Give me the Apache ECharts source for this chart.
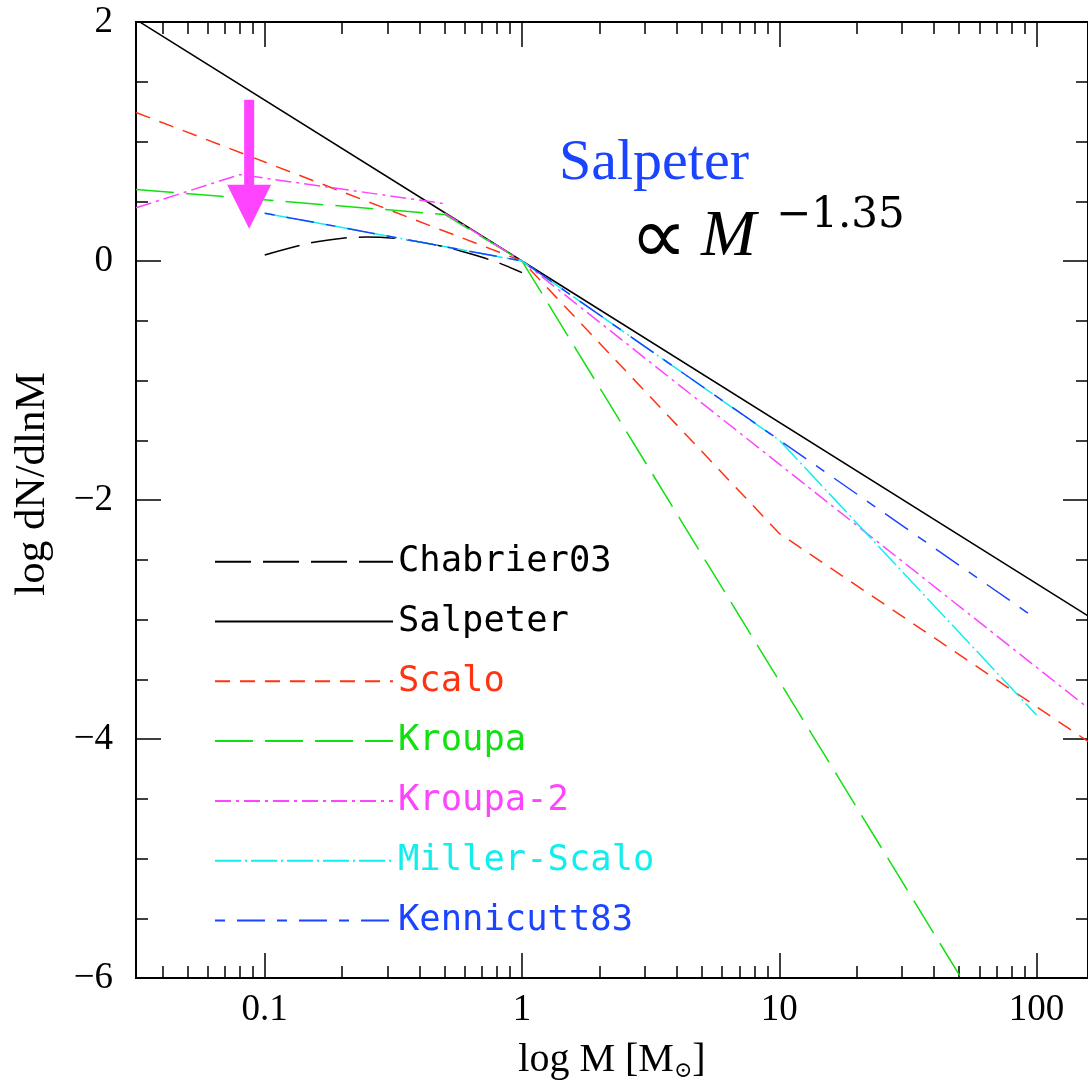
<!DOCTYPE html>
<html><head><meta charset="utf-8">
<script src="https://cdn.jsdelivr.net/npm/echarts@6/dist/echarts.min.js"></script>
<style>html,body{margin:0;padding:0;background:#fff}#c{width:1088px;height:1087px}</style>
</head><body><div id="c"></div>
<script>
// ---- data (x = M in solar masses, y = log dN/dlnM) ----
const chabrier03 = [[0.1,0.05],[0.15,0.15],[0.21,0.195],[0.25,0.2],[0.33,0.187],[0.4,0.16],[0.52,0.11],[0.63,0.06],[0.8,-0.01],[0.9,-0.055],[1,-0.097]];
const salpeter   = [[0.0316,2.02],[1,0],[158.5,-2.97]];
const scalo      = [[0.0316,1.243],[1,0],[10,-2.28],[158.5,-4.02]];
const kroupa     = [[0.0316,0.598],[0.5,0.39],[1,0],[60,-6.25]];
const kroupa2    = [[0.0316,0.445],[0.08,0.723],[0.5,0.48],null,[0.5,0.40],[1,0],[158.5,-3.74]];
const millerScalo= [[0.1,0.40],[1,0],[10,-1.50],[100,-3.80]];
const kennicutt83= [[0.1,0.40],[1,0],[99,-2.99]];

const seriesNames = ['Chabrier03','Salpeter','Scalo','Kroupa','Kroupa-2','Miller-Scalo','Kennicutt83'];
const seriesData  = [chabrier03, salpeter, scalo, kroupa, kroupa2, millerScalo, kennicutt83];

const xMajorTicks = [0.1,1,10,100];
const xMinorTicks = [0.04,0.05,0.06,0.07,0.08,0.09,0.2,0.3,0.4,0.5,0.6,0.7,0.8,0.9,2,3,4,5,6,7,8,9,20,30,40,50,60,70,80,90];
const xRange = [0.0316, 158.5];
const yRange = [-6, 2];

// annotation arrow (x = M, from/to in log dN/dlnM)
const arrowM = 0.087, arrowFrom = 1.35, arrowTo = 0.27;

// ---- styles ----
const colors = ['#000000','#000000','#ff3311','#11e011','#ff44ff','#11eeee','#1a44ff'];
const dashes = [[36,12], 'solid', [15,10], [38,12], [16,5,3,5], [26,4,2,4], [10,12,28,12]];
const serifFont = '"Liberation Serif","DejaVu Serif",serif';

const chart = echarts.init(document.getElementById('c'), null, {renderer:'canvas'});

function xAxisDef(pos, ticks, len, labels) {
  return {
    type:'log', logBase:10, position:pos, min:xRange[0], max:xRange[1],
    splitLine:{show:false},
    axisLine:{show:true, onZero:false, lineStyle:{color:'#000', width:2}},
    axisTick:{show:true, inside:true, length:len, customValues:ticks, lineStyle:{color:'#000', width:1.5}},
    axisLabel: labels ? {show:true, customValues:xMajorTicks, margin:14, color:'#000', fontFamily:serifFont, fontSize:37,
                         formatter: v => String(v)} : {show:false},
    minorTick:{show:false}
  };
}
function yAxisDef(pos, labels) {
  return {
    type:'value', position:pos, min:yRange[0], max:yRange[1], interval:2,
    splitLine:{show:false},
    axisLine:{show:true, onZero:false, lineStyle:{color:'#000', width:2}},
    axisTick:{show:true, inside:true, length:25, lineStyle:{color:'#000', width:1.5}},
    minorTick:{show:true, splitNumber:4, length:12, lineStyle:{color:'#000', width:1.5}},
    axisLabel: labels ? {show:true, margin:23, color:'#000', fontFamily:serifFont, fontSize:37,
                         formatter: v => v < 0 ? '\u2212' + (-v) : String(v)} : {show:false}
  };
}

const xAxes = [xAxisDef('bottom', xMajorTicks, 25, true), xAxisDef('bottom', xMinorTicks, 12, false),
               xAxisDef('top', xMajorTicks, 25, false), xAxisDef('top', xMinorTicks, 12, false)];
xAxes[0].name = '{t|log M [M}{s|\u2299}{t|]}';
xAxes[0].nameLocation = 'middle';
xAxes[0].nameGap = 60;
xAxes[0].nameTextStyle = {rich:{t:{fontFamily:serifFont, fontSize:40, color:'#000'}, s:{fontFamily:'"DejaVu Serif",serif', fontSize:22, color:'#000', padding:[22,0,0,0]}}};

const yAxes = [yAxisDef('left', true), yAxisDef('right', false)];
yAxes[0].name = 'log dN/dlnM';
yAxes[0].nameLocation = 'middle';
yAxes[0].nameGap = 82;
yAxes[0].nameTextStyle = {fontFamily:serifFont, fontSize:43, color:'#000', padding:[0,0,0,32]};

const series = seriesNames.map((n, i) => ({
  name:n, type:'line', xAxisIndex:0, yAxisIndex:0,
  data: seriesData[i].map(p => p === null ? '-' : p),
  symbol:'none', showSymbol:false, connectNulls:false, clip:true,
  smooth: i === 0 ? 0.3 : false,
  lineStyle:{color:colors[i], width:1.5, type: dashes[i]},
  itemStyle:{color:colors[i]},
  emphasis:{disabled:true}, silent:true
}));

chart.setOption({
  animation:false,
  backgroundColor:'#fff',
  grid:{left:136, right:-8, top:22, bottom:106, containLabel:false},
  xAxis:xAxes, yAxis:yAxes,
  legend:{
    orient:'vertical', left:214, top:541.7, padding:0, itemWidth:178, itemHeight:14, itemGap:19.8,
    selectedMode:false,
    itemStyle:{opacity:0, color:'transparent', borderWidth:0},
    textStyle:{fontFamily:'"DejaVu Sans Mono",monospace', fontSize:35.5, lineHeight:40},
    data: seriesNames.map((n,i) => ({name:n, textStyle:{color:colors[i]}}))
  },
  series: series
});

// annotations
const pTop = chart.convertToPixel({xAxisIndex:0, yAxisIndex:0}, [arrowM, arrowFrom]);
const pTip = chart.convertToPixel({xAxisIndex:0, yAxisIndex:0}, [arrowM, arrowTo]);
const headH = 44, headW = 22, shaftW = 5;
const cx = pTop[0];
chart.setOption({
  graphic:[
    {type:'polygon', shape:{points:[
      [cx-shaftW, pTop[1]], [cx+shaftW, pTop[1]], [cx+shaftW, pTip[1]-headH], [cx+headW, pTip[1]-headH],
      [cx, pTip[1]], [cx-headW, pTip[1]-headH], [cx-shaftW, pTip[1]-headH]]},
      style:{fill:'#ff44ff'}, silent:true, z:10},
    {type:'text', x:559, y:164, style:{text:'Salpeter', fontFamily:serifFont, fontSize:58, fill:'#1a44ff', align:'left', verticalAlign:'middle'}, z:10},
    {type:'text', x:630, y:242, style:{text:'\u221D', fontFamily:'"DejaVu Sans",sans-serif', fontSize:80, fill:'#000', align:'left', verticalAlign:'middle'}, z:10},
    {type:'text', x:701, y:238, style:{text:'M', fontFamily:serifFont, fontStyle:'italic', fontSize:66, fill:'#000', align:'left', verticalAlign:'middle'}, z:10},
    {type:'text', x:776, y:216, style:{text:'\u22121.35', fontFamily:'"DejaVu Serif",serif', fontSize:42, fill:'#000', align:'left', verticalAlign:'middle'}, z:10}
  ]
});
</script>
</body></html>
